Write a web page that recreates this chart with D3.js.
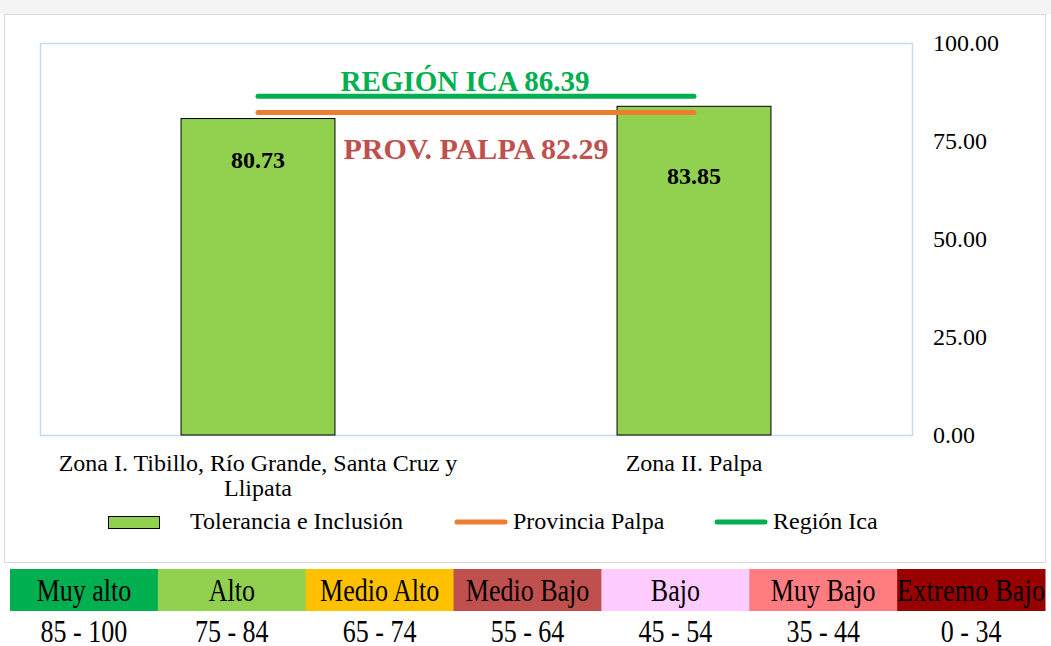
<!DOCTYPE html>
<html>
<head>
<meta charset="utf-8">
<script src="https://cdn.jsdelivr.net/npm/d3@7"></script>
<style>
  body { margin: 0; background: #fff; }
  svg text { font-family: "Liberation Serif", "Times New Roman", serif; }
</style>
</head>
<body>
<svg id="chart" width="1051" height="646"></svg>
<script>
// chart values
var categories = ["Zona I. Tibillo, Río Grande, Santa Cruz y Llipata", "Zona II. Palpa"];
var catLines = [["Zona I. Tibillo, Río Grande, Santa Cruz y", "Llipata"], ["Zona II. Palpa"]];
var toleranciaValues = [80.73, 83.85];
var provinciaValue = 82.29;
var regionValue = 86.39;
var yTicks = [0, 25, 50, 75, 100];
var legendNames = ["Tolerancia e Inclusión", "Provincia Palpa", "Región Ica"];

// scale bands at the bottom
var levelNames = ["Muy alto", "Alto", "Medio Alto", "Medio Bajo", "Bajo", "Muy Bajo", "Extremo Bajo"];
var levelRanges = ["85 - 100", "75 - 84", "65 - 74", "55 - 64", "45 - 54", "35 - 44", "0 - 34"];
var levelColors = ["#00B050", "#92D050", "#FFC000", "#C0504D", "#FFCCFF", "#FF7C80", "#990000"];

var svg = d3.select("#chart");

// faded strip at the top (background picture behind the chart)
svg.append("rect").attr("x", 0).attr("y", 0).attr("width", 1051).attr("height", 14).attr("fill", "#f4f4f4");

// outer chart box
svg.append("rect")
  .attr("x", 4.5).attr("y", 14.5).attr("width", 1041).attr("height", 548)
  .attr("fill", "#fff").attr("stroke", "#d9d9d9");

var plot = {left: 40, right: 912, top: 43, bottom: 435};

var x = d3.scaleBand().domain(categories).range([plot.left, plot.right]).paddingInner(0.647).paddingOuter(0.3235);
var y = d3.scaleLinear().domain([0, 100]).range([plot.bottom, plot.top]);

// plot area border
svg.append("rect")
  .attr("x", plot.left + 0.5).attr("y", plot.top + 0.5)
  .attr("width", plot.right - plot.left).attr("height", plot.bottom - plot.top)
  .attr("fill", "none").attr("stroke", "#c5daf0").attr("stroke-width", 1.5);

// y axis on the right, no line
var yAxis = d3.axisRight(y).tickValues(yTicks).tickFormat(d3.format(".2f")).tickSize(0).tickPadding(0);
var ya = svg.append("g").attr("transform", "translate(933,0)").call(yAxis);
ya.select(".domain").remove();
ya.selectAll("text").attr("font-size", 24).attr("fill", "#000")
  .style("font-family", "'Liberation Serif', serif").attr("dy", "0.3em");

// bars
svg.selectAll("rect.bar").data(toleranciaValues).enter().append("rect")
  .attr("class", "bar")
  .attr("x", function(d, i) { return x(categories[i]); })
  .attr("y", function(d) { return y(d); })
  .attr("width", x.bandwidth())
  .attr("height", function(d) { return y(0) - y(d); })
  .attr("fill", "#92D050").attr("stroke", "#000").attr("stroke-width", 1);

// bar value labels
var labelOffsets = [49, 78];
svg.selectAll("text.val").data(toleranciaValues).enter().append("text")
  .attr("class", "val")
  .attr("x", function(d, i) { return x(categories[i]) + x.bandwidth() / 2; })
  .attr("y", function(d, i) { return y(d) + labelOffsets[i]; })
  .attr("text-anchor", "middle").attr("font-size", 24).attr("font-weight", "bold")
  .text(function(d) { return d.toFixed(2); });

// reference lines from center of first category to center of second
var cx0 = x(categories[0]) + x.bandwidth() / 2;
var cx1 = x(categories[1]) + x.bandwidth() / 2;
svg.append("line").attr("x1", cx0).attr("x2", cx1).attr("y1", y(regionValue)).attr("y2", y(regionValue))
  .attr("stroke", "#00B050").attr("stroke-width", 5).attr("stroke-linecap", "round");
svg.append("line").attr("x1", cx0).attr("x2", cx1).attr("y1", y(provinciaValue)).attr("y2", y(provinciaValue))
  .attr("stroke", "#ED7D31").attr("stroke-width", 5).attr("stroke-linecap", "round");

svg.append("text").attr("x", 465).attr("y", y(regionValue) - 5)
  .attr("text-anchor", "middle").attr("font-size", 29).attr("font-weight", "bold").attr("fill", "#00B050")
  .text("REGIÓN ICA " + regionValue.toFixed(2));
svg.append("text").attr("x", 476).attr("y", y(provinciaValue) + 47)
  .attr("text-anchor", "middle").attr("font-size", 30).attr("font-weight", "bold").attr("fill", "#C0504D")
  .text("PROV. PALPA " + provinciaValue.toFixed(2));

// category labels
catLines.forEach(function(lines, i) {
  var t = svg.append("text").attr("text-anchor", "middle").attr("font-size", 24)
    .attr("x", x(categories[i]) + x.bandwidth() / 2).attr("y", 471);
  lines.forEach(function(l, j) {
    t.append("tspan").attr("x", x(categories[i]) + x.bandwidth() / 2).attr("dy", j ? 25 : 0).text(l);
  });
});

// legend
var lg = svg.append("g").attr("font-size", 24);
lg.append("rect").attr("x", 108.5).attr("y", 516.5).attr("width", 51).attr("height", 12)
  .attr("fill", "#92D050").attr("stroke", "#000");
lg.append("text").attr("x", 190).attr("y", 529).text(legendNames[0]);
lg.append("line").attr("x1", 457).attr("x2", 505).attr("y1", 522).attr("y2", 522)
  .attr("stroke", "#ED7D31").attr("stroke-width", 5).attr("stroke-linecap", "round");
lg.append("text").attr("x", 513).attr("y", 529).text(legendNames[1]);
lg.append("line").attr("x1", 717).attr("x2", 765).attr("y1", 522).attr("y2", 522)
  .attr("stroke", "#00B050").attr("stroke-width", 5).attr("stroke-linecap", "round");
lg.append("text").attr("x", 773).attr("y", 529).text(legendNames[2]);

// level bands (text is drawn tall and narrow, as in the original)
var bx = d3.scaleBand().domain(levelNames).range([10, 1045]);
var bands = svg.append("g");
bands.selectAll("rect").data(levelNames).enter().append("rect")
  .attr("x", function(d) { return bx(d); }).attr("y", 569)
  .attr("width", bx.bandwidth() + 0.5).attr("height", 42)
  .attr("fill", function(d, i) { return levelColors[i]; });
bands.selectAll("text.name").data(levelNames).enter().append("text")
  .attr("class", "name")
  .attr("transform", function(d) { return "translate(" + (bx(d) + bx.bandwidth() / 2) + ",601) scale(1,1.25)"; })
  .attr("text-anchor", "middle").attr("font-size", 26)
  .attr("textLength", function(d) { return d === "Extremo Bajo" ? 148 : null; })
  .text(function(d) { return d; });
bands.selectAll("text.range").data(levelRanges).enter().append("text")
  .attr("class", "range")
  .attr("transform", function(d, i) { return "translate(" + (bx(levelNames[i]) + bx.bandwidth() / 2) + ",642) scale(1,1.25)"; })
  .attr("text-anchor", "middle").attr("font-size", 26)
  .text(function(d) { return d; });
</script>
</body>
</html>
